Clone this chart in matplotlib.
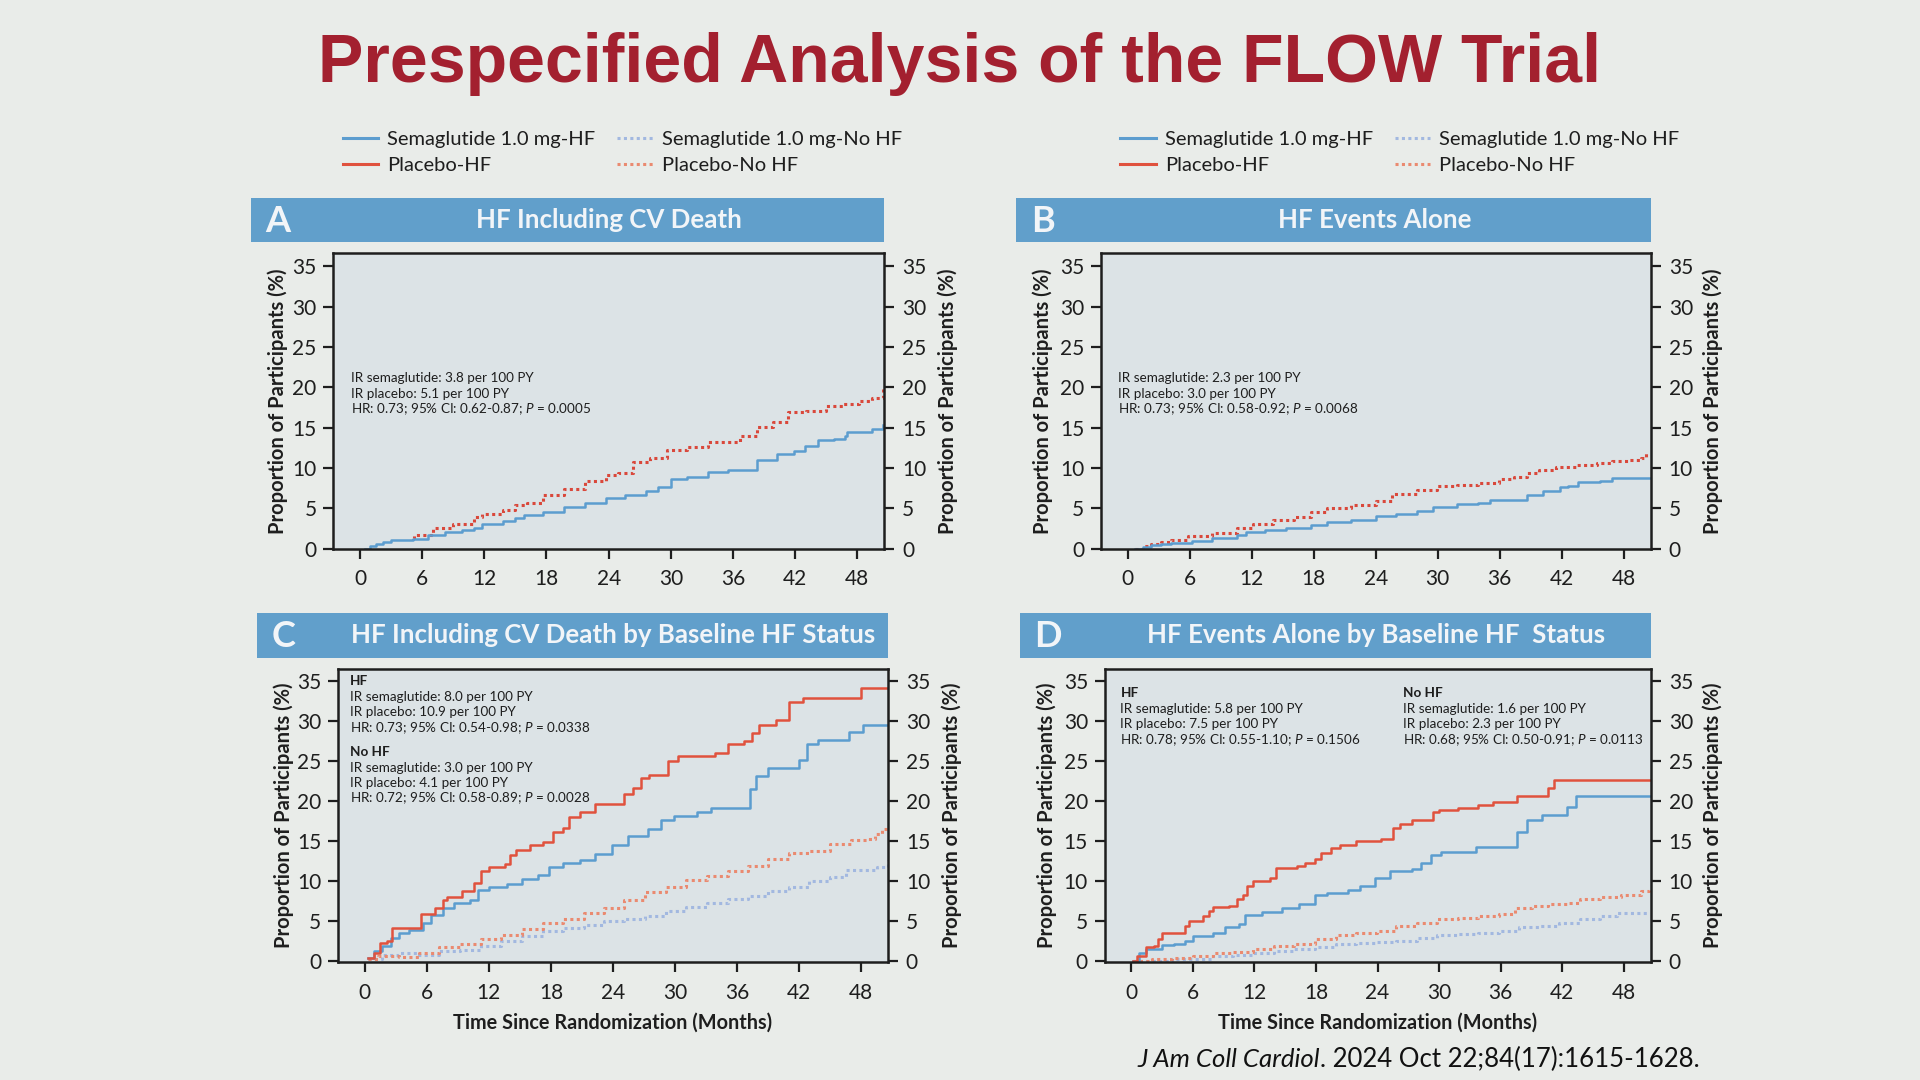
import matplotlib
matplotlib.use("Agg")
import matplotlib.pyplot as plt
from matplotlib.lines import Line2D
from matplotlib.patches import Rectangle

plt.rcParams['font.family'] = ['Lato', 'DejaVu Sans']
plt.rcParams['mathtext.fontset'] = 'custom'
plt.rcParams['mathtext.rm'] = 'Lato'
plt.rcParams['mathtext.it'] = 'Lato:italic'
plt.rcParams['mathtext.bf'] = 'Lato:bold'

##############################################
# data (months, % of participants)

# A - HF including CV death
a_sema_x = [0.5, 1.0, 1.5, 2.2, 3.0, 5.1, 6.6, 8.2, 9.8, 11.0, 11.8, 13.8, 15.0, 15.8, 17.7, 19.7, 21.7, 23.7, 25.6,
            27.6, 28.8, 30.0, 31.6, 33.6, 35.5, 36.5, 38.3, 40.3, 41.9, 43.0, 44.2, 45.8, 46.8, 47.0, 48.6, 49.4, 50.5]
a_sema_y = [0.0, 0.3, 0.6, 0.8, 1.0, 1.2, 1.65, 2.0, 2.3, 2.6, 3.0, 3.4, 3.8, 4.1, 4.5, 5.2, 5.6, 6.3, 6.6,
            7.1, 7.6, 8.6, 8.9, 9.5, 9.8, 9.8, 11.0, 11.7, 12.1, 12.7, 13.5, 13.6, 14.0, 14.5, 14.5, 14.8, 15.3]
a_plac_x = [5.1, 5.2, 7.0, 9.0, 11.0, 11.8, 13.8, 15.0, 16.1, 17.7, 19.7, 21.7, 23.7, 24.9, 26.4, 28.0, 29.6,
            31.6, 33.6, 34.9, 36.7, 38.3, 39.9, 41.3, 43.1, 45.0, 46.6, 48.2, 49.4, 50.5]
a_plac_y = [1.3, 1.65, 2.5, 3.1, 3.9, 4.3, 4.8, 5.4, 5.6, 6.6, 7.4, 8.4, 9.1, 9.4, 10.7, 11.2, 12.2,
            12.6, 13.2, 13.2, 14.0, 15.1, 15.7, 16.9, 17.1, 17.7, 17.9, 18.3, 18.7, 19.8]

# B - HF events alone
b_sema_x = [0.7, 1.5, 2.3, 3.2, 4.2, 6.2, 8.2, 10.6, 11.5, 13.3, 15.3, 17.7, 19.3, 21.6, 24.0, 26.0, 28.0, 29.5,
            31.9, 33.9, 35.1, 36.9, 38.6, 40.2, 41.8, 42.6, 43.6, 45.7, 46.9, 50.5]
b_sema_y = [0.0, 0.25, 0.4, 0.55, 0.7, 0.95, 1.3, 1.65, 2.05, 2.3, 2.6, 2.9, 3.3, 3.6, 4.0, 4.3, 4.7, 5.2,
            5.5, 5.7, 6.0, 6.0, 6.7, 7.1, 7.6, 7.7, 8.3, 8.4, 8.8, 8.8]
b_plac_x = [0.7, 1.5, 2.3, 3.2, 4.2, 5.8, 8.2, 10.6, 12.1, 14.1, 16.1, 17.7, 19.3, 21.6, 24.0, 25.6, 28.0, 29.9,
            31.9, 33.9, 35.9, 37.4, 38.6, 39.8, 41.4, 43.4, 45.4, 46.9, 48.5, 49.7, 50.2]
b_plac_y = [0.0, 0.3, 0.6, 0.8, 1.0, 1.5, 1.9, 2.6, 3.0, 3.6, 3.9, 4.5, 5.0, 5.4, 5.9, 6.8, 7.3, 7.7,
            7.9, 8.1, 8.6, 8.9, 9.4, 9.7, 10.1, 10.3, 10.6, 10.9, 11.0, 11.2, 11.8]

# C - HF including CV death by baseline HF status
c_plac_hf_x = [0.3, 0.9, 1.5, 2.1, 2.6, 5.4, 6.8, 7.6, 8.0, 9.4, 10.6, 11.2, 12.0, 13.6, 14.0, 14.6, 16.0, 17.2,
               18.2, 19.2, 19.8, 20.8, 22.3, 25.1, 25.9, 26.7, 27.5, 29.3, 30.3, 33.9, 35.1, 36.7, 37.5, 38.1,
               39.8, 41.0, 42.4, 48.0, 50.6]
c_plac_hf_y = [0.4, 1.0, 2.3, 2.5, 4.1, 5.9, 6.6, 7.6, 8.0, 8.7, 9.7, 11.2, 11.7, 12.1, 13.3, 13.9, 14.5, 14.9,
               16.1, 16.7, 18.0, 18.6, 19.6, 20.9, 21.7, 22.9, 23.3, 25.0, 25.6, 26.0, 27.1, 27.5, 28.5, 29.6,
               30.2, 32.4, 32.9, 34.2, 34.2]
c_sema_hf_x = [0.3, 0.9, 1.7, 2.5, 3.3, 4.3, 5.6, 6.4, 7.6, 8.6, 10.2, 11.0, 12.0, 13.8, 15.2, 16.8, 17.8, 19.2,
               20.8, 22.3, 23.9, 25.5, 27.4, 28.7, 29.9, 32.1, 33.5, 37.3, 37.8, 39.0, 42.0, 42.8, 43.8, 46.8,
               48.2, 50.6]
c_sema_hf_y = [0.4, 1.2, 1.9, 2.9, 3.5, 3.9, 4.8, 5.7, 6.6, 7.2, 7.6, 8.9, 9.2, 9.6, 10.2, 10.7, 11.8, 12.2,
               12.6, 13.4, 14.5, 15.7, 16.5, 17.6, 18.2, 18.7, 19.1, 21.5, 23.1, 24.2, 25.2, 27.1, 27.7, 28.7,
               29.6, 29.6]
c_plac_nohf_x = [0.3, 1.3, 3.3, 5.2, 7.2, 9.2, 11.2, 13.2, 15.2, 17.2, 19.2, 21.2, 23.1, 25.1, 27.1, 29.1, 31.1,
                 33.1, 35.1, 37.1, 39.0, 41.0, 43.0, 45.0, 47.0, 48.6, 49.4, 50.0, 50.6]
c_plac_nohf_y = [0.2, 0.6, 0.5, 1.0, 1.7, 2.1, 2.8, 3.3, 4.0, 4.8, 5.2, 6.0, 6.6, 7.6, 8.6, 9.3, 10.1,
                 10.6, 11.2, 11.9, 12.8, 13.5, 13.8, 14.6, 15.1, 15.3, 15.9, 16.5, 16.5]
c_sema_nohf_x = [0.3, 1.7, 3.3, 5.2, 7.2, 9.2, 11.2, 13.2, 15.2, 17.2, 19.2, 21.2, 23.1, 25.1, 27.1, 29.1, 31.1,
                 33.1, 35.1, 37.1, 39.0, 41.0, 43.0, 45.0, 46.6, 48.6, 49.6, 50.6]
c_sema_nohf_y = [0.2, 0.8, 1.0, 0.8, 1.2, 1.4, 1.9, 2.5, 3.1, 3.8, 4.1, 4.5, 5.0, 5.2, 5.6, 6.2, 6.8,
                 7.2, 7.7, 8.1, 8.7, 9.3, 10.0, 10.5, 11.4, 11.4, 11.8, 12.6]

# D - HF events alone by baseline HF status
d_plac_hf_x = [0.2, 0.6, 1.4, 2.2, 2.6, 3.0, 5.2, 5.6, 7.0, 7.6, 8.0, 9.5, 10.3, 10.9, 11.3, 11.9, 13.5, 14.1,
               16.1, 16.9, 17.9, 18.5, 19.5, 20.3, 21.9, 24.3, 25.5, 26.2, 27.4, 29.4, 30.0, 31.8, 33.8, 35.2,
               37.6, 40.6, 41.2, 50.6]
d_plac_hf_y = [0.0, 0.6, 1.7, 1.9, 2.7, 3.5, 4.4, 5.0, 5.6, 6.2, 6.7, 6.9, 7.7, 8.3, 9.4, 10.0, 10.4, 11.6,
               11.9, 12.3, 12.8, 13.5, 14.1, 14.5, 15.0, 15.3, 16.6, 17.2, 17.6, 18.7, 18.9, 19.1, 19.5, 19.9,
               20.6, 21.6, 22.7, 22.7]
d_sema_hf_x = [0.2, 0.8, 1.4, 3.0, 4.2, 5.2, 6.0, 8.0, 9.1, 10.5, 11.1, 12.7, 14.7, 16.3, 17.9, 19.1, 21.1, 22.3,
               23.7, 25.2, 27.4, 28.2, 29.2, 30.2, 33.6, 37.6, 38.6, 40.0, 42.5, 43.3, 50.6]
d_sema_hf_y = [0.0, 1.0, 1.5, 2.0, 2.1, 2.5, 3.1, 3.5, 4.2, 4.6, 5.8, 6.1, 6.6, 7.1, 8.3, 8.5, 8.9, 9.4,
               10.4, 11.2, 11.5, 12.3, 13.3, 13.6, 14.3, 16.2, 17.7, 18.3, 19.3, 20.6, 20.6]
d_plac_nohf_x = [0.2, 2.0, 4.0, 6.0, 8.0, 9.9, 11.9, 13.9, 15.9, 17.9, 19.9, 21.9, 23.9, 25.8, 27.8, 29.8, 31.8,
                 33.8, 35.8, 37.4, 39.0, 40.6, 42.5, 43.7, 45.7, 47.7, 48.9, 49.7, 50.4]
d_plac_nohf_y = [0.0, 0.2, 0.4, 0.6, 1.0, 1.1, 1.5, 1.9, 2.1, 2.7, 3.2, 3.5, 3.7, 4.4, 4.8, 5.2, 5.4,
                 5.6, 5.9, 6.6, 6.9, 7.1, 7.3, 7.8, 8.0, 8.3, 8.3, 8.7, 9.3]
d_sema_nohf_x = [0.2, 2.0, 4.0, 6.0, 8.0, 9.9, 11.9, 13.9, 15.9, 17.9, 19.9, 21.9, 23.9, 25.8, 27.8, 29.8, 31.8,
                 33.8, 35.8, 37.8, 39.8, 41.7, 43.7, 45.7, 47.3, 50.4]
d_sema_nohf_y = [0.0, 0.0, 0.2, 0.3, 0.6, 0.8, 1.0, 1.3, 1.5, 1.7, 2.1, 2.3, 2.4, 2.5, 2.9, 3.2, 3.4,
                 3.5, 3.7, 4.2, 4.4, 4.8, 5.2, 5.6, 6.0, 6.0]

legend_labels = ["Semaglutide 1.0 mg-HF", "Placebo-HF", "Semaglutide 1.0 mg-No HF", "Placebo-No HF"]
panel_letters = ["A", "B", "C", "D"]
panel_titles = ["HF Including CV Death", "HF Events Alone",
                "HF Including CV Death by Baseline HF Status", "HF Events Alone by Baseline HF  Status"]

a_notes = ["IR semaglutide: 3.8 per 100 PY", "IR placebo: 5.1 per 100 PY",
           "HR: 0.73; 95% CI: 0.62-0.87; $\\mathit{P}$ = 0.0005"]
b_notes = ["IR semaglutide: 2.3 per 100 PY", "IR placebo: 3.0 per 100 PY",
           "HR: 0.73; 95% CI: 0.58-0.92; $\\mathit{P}$ = 0.0068"]
c_hf_notes = ["IR semaglutide: 8.0 per 100 PY", "IR placebo: 10.9 per 100 PY",
              "HR: 0.73; 95% CI: 0.54-0.98; $\\mathit{P}$ = 0.0338"]
c_nohf_notes = ["IR semaglutide: 3.0 per 100 PY", "IR placebo: 4.1 per 100 PY",
                "HR: 0.72; 95% CI: 0.58-0.89; $\\mathit{P}$ = 0.0028"]
d_hf_notes = ["IR semaglutide: 5.8 per 100 PY", "IR placebo: 7.5 per 100 PY",
              "HR: 0.78; 95% CI: 0.55-1.10; $\\mathit{P}$ = 0.1506"]
d_nohf_notes = ["IR semaglutide: 1.6 per 100 PY", "IR placebo: 2.3 per 100 PY",
                "HR: 0.68; 95% CI: 0.50-0.91; $\\mathit{P}$ = 0.0113"]

##############################################
BG = '#E9ECE9'
PLOT_BG = '#DCE3E6'
BAR = '#619FCB'
BLUE = '#5C9DCF'
RED = '#E0523E'
BLUE_DOT = '#A2B8E0'
RED_DOT = '#EA8A70'
RED_DOT_AB = '#D9483B'
INK = '#1E1E1E'
DOT = (0, (1.0, 1.1))
NOTE_FS = 9.7

fig = plt.figure(figsize=(19.2, 10.8), dpi=100, facecolor=BG)

fig.text(0.5, 0.924, "Prespecified Analysis of the FLOW Trial", ha='center', va='baseline',
         fontsize=49, fontweight='bold', color='#A3202F', family=['Liberation Sans', 'DejaVu Sans'])


def make_axes(rect, ybottom, lab_left, lab_right, xlabel=False):
    ax = fig.add_axes(rect, facecolor=PLOT_BG)
    ax.set_xlim(-2.6, 50.6)
    ax.set_ylim(ybottom, 36.6)
    ax.set_xticks(range(0, 49, 6))
    ax.set_yticks(range(0, 36, 5))
    for s in ax.spines.values():
        s.set_linewidth(1.8)
        s.set_color(INK)
    ax.tick_params(direction='out', length=7, width=1.6, color=INK, labelsize=15, labelcolor=INK)
    ax.tick_params(axis='x', pad=8)
    ax.tick_params(axis='y', pad=5)
    ax.set_ylabel("Proportion of Participants (%)", fontsize=14.5, fontweight='bold', color=INK)
    ax.yaxis.set_label_coords(lab_left, 0.5)
    tw = ax.twinx()
    tw.set_ylim(ybottom, 36.6)
    tw.set_yticks(range(0, 36, 5))
    tw.tick_params(direction='out', length=7, width=1.6, color=INK, labelsize=15, labelcolor=INK, pad=6)
    for s in tw.spines.values():
        s.set_visible(False)
    tw.set_ylabel("Proportion of Participants (%)", fontsize=14.5, fontweight='bold', color=INK)
    tw.yaxis.set_label_coords(lab_right, 0.5)
    if xlabel:
        ax.set_xlabel("Time Since Randomization (Months)", fontsize=14.3, fontweight='bold', color=INK)
        ax.xaxis.set_label_coords(0.5, -0.172)
    return ax


def header(x0, x1, y0, y1, letter, title):
    fig.patches.append(Rectangle((x0, y0), x1 - x0, y1 - y0, transform=fig.transFigure,
                                 facecolor=BAR, edgecolor='none', zorder=0))
    ym = (y0 + y1) / 2
    fig.text(x0 + 0.0075, ym - 0.001, letter, ha='left', va='center', fontsize=26, fontweight='bold',
             color='#F2F5F8')
    fig.text(x0 + 0.565 * (x1 - x0), ym, title, ha='center', va='center', fontsize=18.6,
             fontweight='bold', color='#F2F5F8')


def notes(ax, x, ytop, lines, head=None):
    step = 0.0525
    y = ytop
    if head:
        ax.text(x, y, head, transform=ax.transAxes, ha='left', va='center', fontsize=NOTE_FS,
                fontweight='bold', color=INK)
        y -= 0.054
    for ln in lines:
        ax.text(x, y, ln, transform=ax.transAxes, ha='left', va='center', fontsize=NOTE_FS, color=INK)
        y -= step


# panel A
header(0.1307, 0.4605, 0.7755, 0.8163, panel_letters[0], panel_titles[0])
axA = make_axes([0.1735, 0.4921, 0.2870, 0.2732], 0, -0.081, 1.097)
axA.plot(a_plac_x, a_plac_y, color=RED_DOT_AB, lw=2.2, ls=DOT, drawstyle='steps-post')
axA.plot(a_sema_x, a_sema_y, color=BLUE, lw=1.8, drawstyle='steps-post')
notes(axA, 0.033, 0.577, a_notes)

# panel B
header(0.5293, 0.8597, 0.7755, 0.8163, panel_letters[1], panel_titles[1])
axB = make_axes([0.5733, 0.4921, 0.2864, 0.2732], 0, -0.086, 1.095)
axB.plot(b_plac_x, b_plac_y, color=RED_DOT_AB, lw=2.2, ls=DOT, drawstyle='steps-post')
axB.plot(b_sema_x, b_sema_y, color=BLUE, lw=1.8, drawstyle='steps-post')
notes(axB, 0.031, 0.577, b_notes)

# panel C
header(0.1339, 0.4624, 0.3912, 0.4320, panel_letters[2], panel_titles[2])
axC = make_axes([0.1760, 0.1088, 0.2864, 0.2721], -0.2, -0.079, 1.097, xlabel=True)
axC.plot(c_sema_nohf_x, c_sema_nohf_y, color=BLUE_DOT, lw=2.2, ls=DOT, drawstyle='steps-post')
axC.plot(c_plac_nohf_x, c_plac_nohf_y, color=RED_DOT, lw=2.2, ls=DOT, drawstyle='steps-post')
axC.plot(c_sema_hf_x, c_sema_hf_y, color=BLUE, lw=1.8, drawstyle='steps-post')
axC.plot(c_plac_hf_x, c_plac_hf_y, color=RED, lw=1.8, drawstyle='steps-post')
notes(axC, 0.022, 0.958, c_hf_notes, head="HF")
notes(axC, 0.022, 0.717, c_nohf_notes, head="No HF")

# panel D
header(0.5312, 0.8597, 0.3912, 0.4320, panel_letters[3], panel_titles[3])
axD = make_axes([0.5753, 0.1088, 0.2844, 0.2721], -0.2, -0.0865, 1.0955, xlabel=True)
axD.plot(d_sema_nohf_x, d_sema_nohf_y, color=BLUE_DOT, lw=2.2, ls=DOT, drawstyle='steps-post')
axD.plot(d_plac_nohf_x, d_plac_nohf_y, color=RED_DOT, lw=2.2, ls=DOT, drawstyle='steps-post')
axD.plot(d_sema_hf_x, d_sema_hf_y, color=BLUE, lw=1.8, drawstyle='steps-post')
axD.plot(d_plac_hf_x, d_plac_hf_y, color=RED, lw=1.8, drawstyle='steps-post')
notes(axD, 0.029, 0.917, d_hf_notes, head="HF")
notes(axD, 0.547, 0.917, d_nohf_notes, head="No HF")

# legends above the top panels
handles = [Line2D([], [], color=BLUE, lw=2.2),
           Line2D([], [], color=RED, lw=2.2),
           Line2D([], [], color=BLUE_DOT, lw=2.2, ls=DOT),
           Line2D([], [], color=RED_DOT, lw=2.2, ls=DOT)]
for lx in (0.1786, 0.5835):
    fig.legend(handles, legend_labels, loc='upper left', bbox_to_anchor=(lx, 0.879), ncol=2,
               frameon=False, fontsize=14.5, handlelength=1.75, handletextpad=0.45,
               columnspacing=1.1, labelspacing=0.45, borderpad=0, borderaxespad=0, labelcolor=INK)

# citation
fig.canvas.draw()
cite2 = fig.text(0.8852, 0.012, ". 2024 Oct 22;84(17):1615-1628.", ha='right', va='baseline',
                 fontsize=18.5, color='#111111')
bb = cite2.get_window_extent(renderer=fig.canvas.get_renderer())
fig.text(bb.x0 / fig.bbox.width, 0.012, "J Am Coll Cardiol", ha='right', va='baseline',
         fontsize=18.5, style='italic', color='#111111')

plt.savefig("out.png", dpi=100, facecolor=BG)
